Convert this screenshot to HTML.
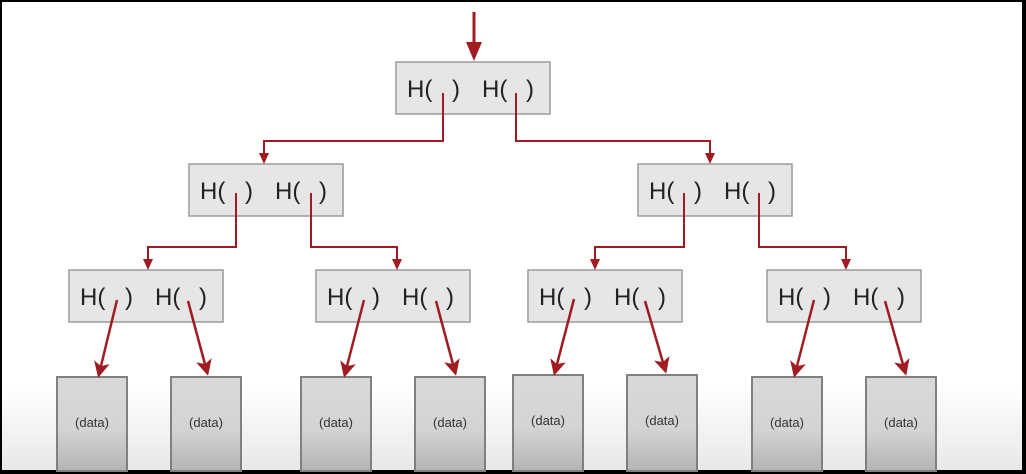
<!DOCTYPE html>
<html><head><meta charset="utf-8"><style>
html,body{margin:0;padding:0;background:#000;}
svg{display:block}
</style></head><body>
<svg width="1026" height="474" viewBox="0 0 1026 474" xmlns="http://www.w3.org/2000/svg">
<defs>
<linearGradient id="bg" x1="0" y1="0" x2="0" y2="1">
<stop offset="0" stop-color="#fff"/><stop offset="0.82" stop-color="#fff"/><stop offset="1" stop-color="#e8e8e8"/>
</linearGradient>
<linearGradient id="dg" x1="0" y1="0" x2="0" y2="1">
<stop offset="0" stop-color="#d9d9d9"/><stop offset="0.55" stop-color="#d4d4d4"/><stop offset="1" stop-color="#b4b4b4"/>
</linearGradient>
<marker id="ah" markerWidth="10" markerHeight="10" refX="5" refY="9" orient="auto-start-reverse" markerUnits="userSpaceOnUse" viewBox="0 0 10 10">
<path d="M0,0 L10,0 L5,10 Z" fill="#a01c22" transform="rotate(0)"/>
</marker>
<marker id="ah2" markerWidth="16" markerHeight="16" refX="8" refY="8" orient="auto" markerUnits="userSpaceOnUse" viewBox="0 0 16 16">
<path d="M0,0 L16,8 L0,16 L4,8 Z" fill="#a01c22"/>
</marker>
</defs>
<rect x="2" y="2" width="1020" height="468" fill="url(#bg)"/>

<!-- top arrow -->
<line x1="474" y1="12" x2="474" y2="45" stroke="#a01c22" stroke-width="3"/>
<path d="M466,42 L482,42 L474,61 Z" fill="#a01c22"/>

<g font-family="Liberation Sans, sans-serif" font-size="24" fill="#222">
<!-- node boxes -->
<g fill="#e6e6e6" stroke="#9a9a9a" stroke-width="1.5">
<rect x="396" y="62" width="154" height="52"/>
<rect x="189" y="164" width="154" height="52"/>
<rect x="638" y="164" width="154" height="52"/>
<rect x="69" y="270" width="154" height="52"/>
<rect x="316" y="270" width="154" height="52"/>
<rect x="528" y="270" width="154" height="52"/>
<rect x="767" y="270" width="154" height="52"/>
</g>
<text x="407" y="97">H(</text><text x="452" y="97">)</text><text x="482" y="97">H(</text><text x="526" y="97">)</text>
<text x="200" y="199">H(</text><text x="245" y="199">)</text><text x="275" y="199">H(</text><text x="319" y="199">)</text>
<text x="649" y="199">H(</text><text x="694" y="199">)</text><text x="724" y="199">H(</text><text x="768" y="199">)</text>
<text x="80" y="305">H(</text><text x="125" y="305">)</text><text x="155" y="305">H(</text><text x="199" y="305">)</text>
<text x="327" y="305">H(</text><text x="372" y="305">)</text><text x="402" y="305">H(</text><text x="446" y="305">)</text>
<text x="539" y="305">H(</text><text x="584" y="305">)</text><text x="614" y="305">H(</text><text x="658" y="305">)</text>
<text x="778" y="305">H(</text><text x="823" y="305">)</text><text x="853" y="305">H(</text><text x="897" y="305">)</text>
</g>

<!-- elbow connectors -->
<g fill="none" stroke="#a01c22" stroke-width="2">
<polyline points="443,93 443,141 264,141 264,156"/>
<polyline points="516,93 516,141 710,141 710,156"/>
<polyline points="236,193 236,247 148,247 148,262"/>
<polyline points="311,193 311,247 397,247 397,262"/>
<polyline points="684,193 684,247 595,247 595,262"/>
<polyline points="759,193 759,247 846,247 846,262"/>
</g>
<g fill="#a01c22">
<path d="M259,153 L269,153 L264,164 Z"/>
<path d="M705,153 L715,153 L710,164 Z"/>
<path d="M143,259 L153,259 L148,270 Z"/>
<path d="M392,259 L402,259 L397,270 Z"/>
<path d="M590,259 L600,259 L595,270 Z"/>
<path d="M841,259 L851,259 L846,270 Z"/>
</g>

<!-- data boxes -->
<g fill="url(#dg)" stroke="#808080" stroke-width="2">
<rect x="57" y="377" width="70" height="94"/>
<rect x="171" y="377" width="70" height="94"/>
<rect x="301" y="377" width="70" height="94"/>
<rect x="415" y="377" width="70" height="94"/>
<rect x="513" y="375" width="70" height="96"/>
<rect x="627" y="375" width="70" height="96"/>
<rect x="752" y="377" width="70" height="94"/>
<rect x="866" y="377" width="70" height="94"/>
</g>
<g font-family="Liberation Sans, sans-serif" font-size="13" fill="#333" text-anchor="middle">
<text x="92" y="427">(data)</text><text x="206" y="427">(data)</text>
<text x="336" y="427">(data)</text><text x="450" y="427">(data)</text>
<text x="548" y="425">(data)</text><text x="662" y="425">(data)</text>
<text x="787" y="427">(data)</text><text x="901" y="427">(data)</text>
</g>

<!-- diagonal arrows -->
<g stroke="#a01c22" stroke-width="2.5" marker-end="url(#ah2)">
<line x1="117" y1="300" x2="100" y2="370"/>
<line x1="188" y1="301" x2="206" y2="368"/>
<line x1="364" y1="300" x2="346" y2="370"/>
<line x1="436" y1="301" x2="454" y2="368"/>
<line x1="574" y1="299" x2="556" y2="368"/>
<line x1="645" y1="301" x2="664" y2="366"/>
<line x1="814" y1="300" x2="796" y2="370"/>
<line x1="885" y1="301" x2="904" y2="368"/>
</g>
</svg>
</body></html>
